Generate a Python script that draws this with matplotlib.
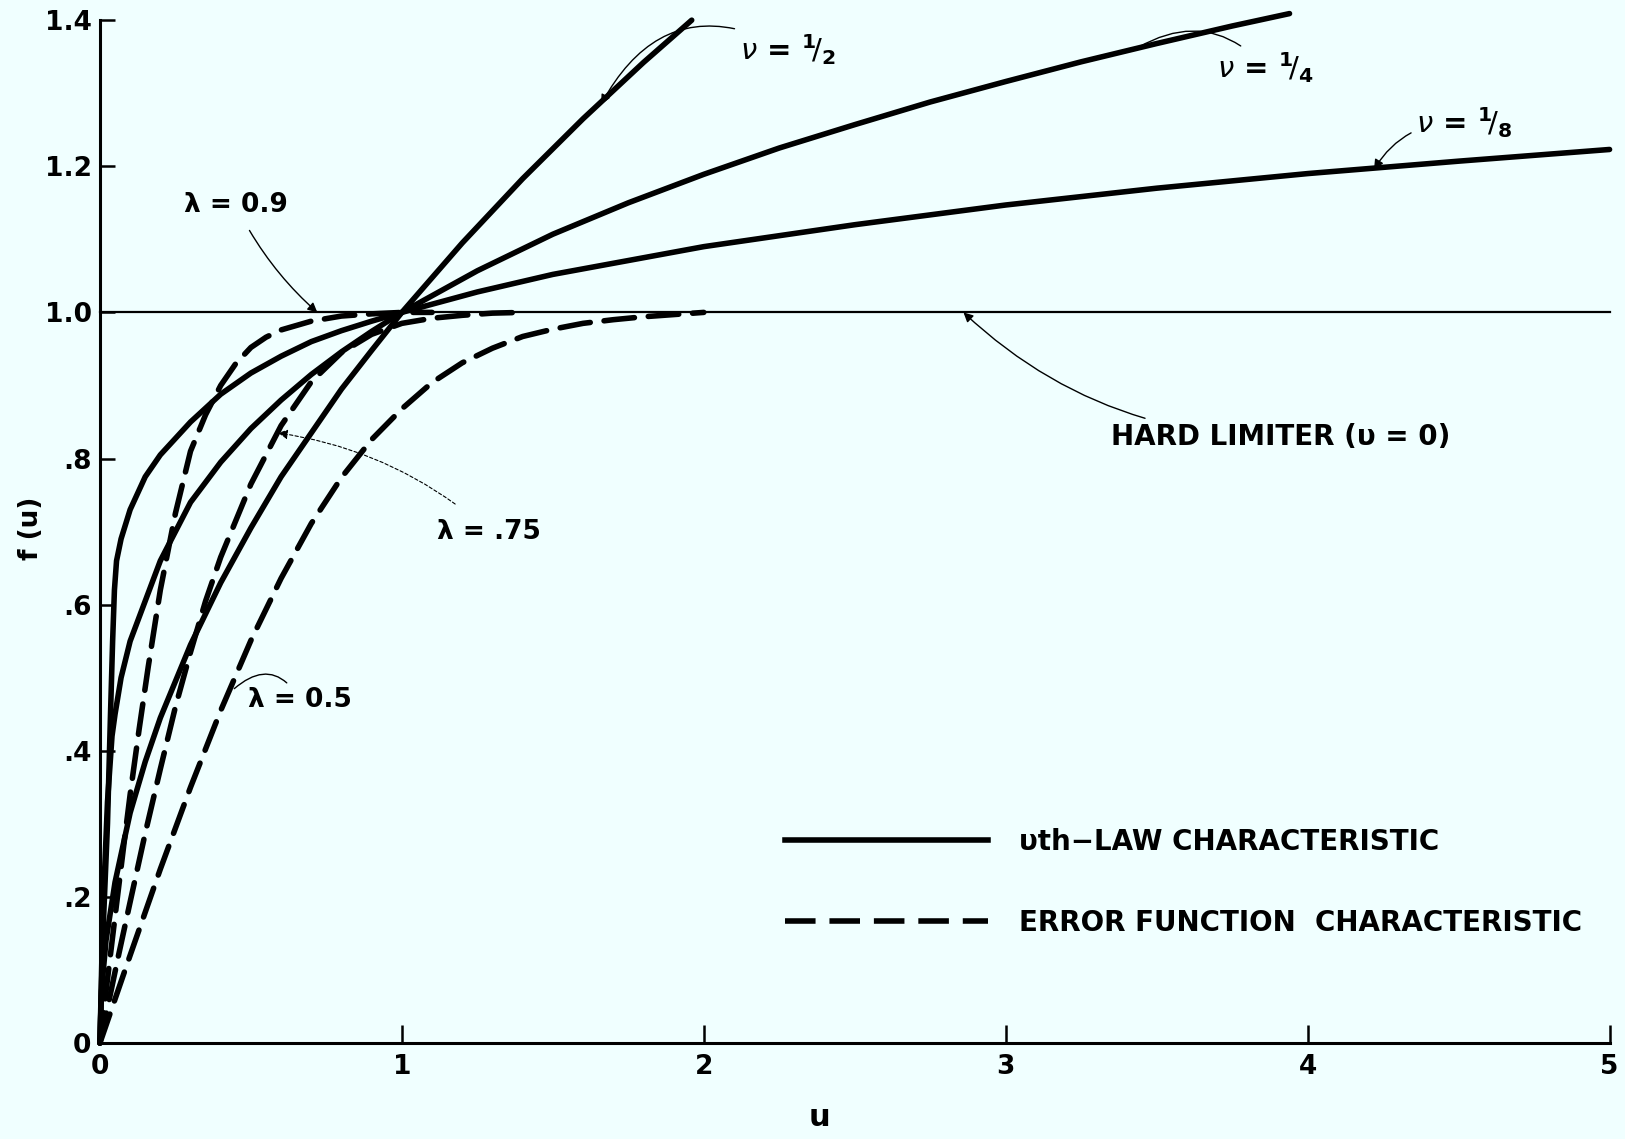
import matplotlib
matplotlib.use("Agg")
import matplotlib.pyplot as plt
from matplotlib.lines import Line2D

# nu-th law characteristics
u_half = [0, 0.005, 0.02, 0.05, 0.1, 0.15, 0.2, 0.3, 0.4, 0.5, 0.6, 0.7, 0.8, 0.9, 1.0,
          1.2, 1.4, 1.6, 1.8, 1.96]
f_half = [0, 0.07, 0.14, 0.22, 0.315, 0.385, 0.445, 0.545, 0.63, 0.705, 0.775, 0.835, 0.895,
          0.948, 1.0, 1.095, 1.183, 1.265, 1.342, 1.40]

u_quarter = [0, 0.01, 0.025, 0.04, 0.05, 0.07, 0.1, 0.15, 0.2, 0.3, 0.4, 0.5, 0.6, 0.7, 0.8,
             0.9, 1.0, 1.25, 1.5, 1.75, 2.0, 2.25, 2.5, 2.75, 3.0, 3.25, 3.5, 3.75, 3.94]
f_quarter = [0, 0.18, 0.33, 0.42, 0.45, 0.50, 0.55, 0.605, 0.66, 0.74, 0.795, 0.841, 0.88,
             0.915, 0.946, 0.974, 1.0, 1.057, 1.107, 1.15, 1.189, 1.225, 1.257, 1.288, 1.316,
             1.343, 1.368, 1.392, 1.409]

u_eighth = [0, 0.01, 0.025, 0.035, 0.042, 0.048, 0.055, 0.07, 0.1, 0.15, 0.2, 0.3, 0.4, 0.5,
            0.6, 0.7, 0.8, 0.9, 1.0, 1.25, 1.5, 2.0, 2.5, 3.0, 3.5, 4.0, 4.5, 5.0]
f_eighth = [0, 0.15, 0.3, 0.45, 0.55, 0.62, 0.66, 0.69, 0.73, 0.775, 0.805, 0.85, 0.888, 0.917,
            0.94, 0.96, 0.975, 0.988, 1.0, 1.028, 1.052, 1.09, 1.12, 1.147, 1.17, 1.19, 1.207,
            1.223]

# error function characteristics
u_l09 = [0, 0.02, 0.05, 0.08, 0.1, 0.13, 0.16, 0.2, 0.25, 0.3, 0.35, 0.4, 0.45, 0.5, 0.55,
         0.6, 0.7, 0.8, 0.9, 1.0, 1.1]
f_l09 = [0, 0.07, 0.173, 0.274, 0.34, 0.43, 0.515, 0.62, 0.725, 0.81, 0.86, 0.90, 0.93, 0.952,
         0.966, 0.976, 0.988, 0.995, 0.998, 1.0, 1.0]

u_l075 = [0, 0.03, 0.06, 0.1, 0.15, 0.2, 0.25, 0.3, 0.35, 0.4, 0.5, 0.6, 0.7, 0.8, 0.9, 1.0,
          1.1, 1.2, 1.3, 1.4]
f_l075 = [0, 0.058, 0.117, 0.193, 0.287, 0.375, 0.46, 0.535, 0.605, 0.665, 0.765, 0.845, 0.905,
          0.945, 0.97, 0.985, 0.992, 0.996, 0.999, 1.0]

u_l05 = [0, 0.05, 0.1, 0.2, 0.3, 0.4, 0.5, 0.6, 0.7, 0.8, 0.9, 1.0, 1.1, 1.2, 1.3, 1.4, 1.5,
         1.6, 1.7, 1.8, 1.9, 2.0]
f_l05 = [0, 0.06, 0.12, 0.238, 0.35, 0.455, 0.551, 0.636, 0.711, 0.774, 0.826, 0.868, 0.904,
         0.931, 0.951, 0.967, 0.977, 0.985, 0.99, 0.994, 0.997, 1.0]

# hard limiter
u_hard = [0, 5]
f_hard = [1.0, 1.0]

x_ticks = [0, 1, 2, 3, 4, 5]
x_labels = ["0", "1", "2", "3", "4", "5"]
y_ticks = [0, 0.2, 0.4, 0.6, 0.8, 1.0, 1.2, 1.4]
y_labels = ["0", ".2", ".4", ".6", ".8", "1.0", "1.2", "1.4"]

BG = "#f0ffff"
INK = "black"
LBL = ["DejaVu Sans Condensed", "Liberation Sans Narrow", "DejaVu Sans"]
DASH = (0, (5.5, 2.5))

fig = plt.figure(figsize=(16.25, 11.39), dpi=100, facecolor=BG)
ax = fig.add_axes([0.0615, 0.0843, 0.929, 0.898], facecolor=BG)

for u, f in [(u_half, f_half), (u_quarter, f_quarter), (u_eighth, f_eighth)]:
    ax.plot(u, f, color=INK, lw=4, solid_capstyle="round", clip_on=False)
for u, f in [(u_l09, f_l09), (u_l075, f_l075), (u_l05, f_l05)]:
    ax.plot(u, f, color=INK, lw=4, linestyle=DASH, dash_capstyle="round", clip_on=False)
ax.plot(u_hard, f_hard, color=INK, lw=1.6, clip_on=False)

ax.set_xlim(0, 5)
ax.set_ylim(0, 1.4)
for s in ["top", "right"]:
    ax.spines[s].set_visible(False)
for s in ["left", "bottom"]:
    ax.spines[s].set_linewidth(2.2)
ax.set_xticks(x_ticks, x_labels)
ax.set_yticks(y_ticks, y_labels)
ax.tick_params(axis="x", direction="in", length=13, width=1.8, labelsize=19, pad=8)
ax.tick_params(axis="y", direction="in", length=11, width=1.8, labelsize=19, pad=6)
for t in ax.get_xticklabels() + ax.get_yticklabels():
    t.set_family(LBL)
    t.set_fontweight("bold")

fig.text(31 / 1625, 1 - 528 / 1139, "f (u)", rotation=90, fontsize=19,
         family=LBL, fontweight="bold", ha="center", va="center")
fig.text(819 / 1625, 1 - 1117 / 1139, "u", fontsize=22, family=LBL,
         fontweight="bold", ha="center", va="center")

# curve labels with leaders
lead = dict(arrowstyle="-|>", color=INK, lw=1.0, mutation_scale=14)
ax.annotate(r"$\nu$ = $^{\mathbf{1}}\!/_{\mathbf{2}}$", xy=(1.66, 1.285), xytext=(2.12, 1.36),
            fontsize=21, family=LBL, fontweight="bold", ha="left", va="center",
            arrowprops=dict(lead, connectionstyle="arc3,rad=0.5", shrinkA=2, shrinkB=0))
ax.annotate(r"$\nu$ = $^{\mathbf{1}}\!/_{\mathbf{4}}$", xy=(3.44, 1.363), xytext=(3.70, 1.335),
            fontsize=21, family=LBL, fontweight="bold", ha="left", va="center",
            arrowprops=dict(lead, arrowstyle="-", connectionstyle="arc3,rad=0.4",
                            shrinkA=2, shrinkB=0))
ax.annotate(r"$\nu$ = $^{\mathbf{1}}\!/_{\mathbf{8}}$", xy=(4.22, 1.196), xytext=(4.36, 1.26),
            fontsize=21, family=LBL, fontweight="bold", ha="left", va="center",
            arrowprops=dict(lead, connectionstyle="arc3,rad=0.3", shrinkA=2, shrinkB=0))
ax.annotate("λ = 0.9", xy=(0.72, 1.0), xytext=(0.45, 1.147),
            fontsize=19, fontweight="bold", family=LBL, ha="center", va="center",
            arrowprops=dict(lead, connectionstyle="arc3,rad=0.1", shrinkA=8, shrinkB=0))
ax.annotate("λ = .75", xy=(0.59, 0.835), xytext=(1.29, 0.70),
            fontsize=19, fontweight="bold", family=LBL, ha="center", va="center",
            arrowprops=dict(lead, lw=0.8, linestyle=(0, (3, 2)),
                            connectionstyle="arc3,rad=0.15", shrinkA=14, shrinkB=0))
ax.annotate("λ = 0.5", xy=(0.445, 0.485), xytext=(0.49, 0.47),
            fontsize=19, fontweight="bold", family=LBL, ha="left", va="center",
            arrowprops=dict(arrowstyle="-", color=INK, lw=1.0,
                            connectionstyle="arc3,rad=0.6", shrinkA=1, shrinkB=0))
ax.annotate("HARD LIMITER (υ = 0)", xy=(2.86, 1.0), xytext=(3.35, 0.83),
            fontsize=20, fontweight="bold", family=LBL, ha="left", va="center",
            arrowprops=dict(lead, connectionstyle="arc3,rad=-0.2", shrinkA=4, shrinkB=0))

handles = [Line2D([], [], color=INK, lw=4),
           Line2D([], [], color=INK, lw=4, linestyle=DASH)]
labels = ["υth−LAW CHARACTERISTIC", "ERROR FUNCTION  CHARACTERISTIC"]
ax.legend(handles, labels, loc="upper left", bbox_to_anchor=(0.454, 0.21),
          frameon=False, handlelength=7.3, handletextpad=1.1, labelspacing=1.9,
          borderpad=0, borderaxespad=0,
          prop=dict(family=LBL, size=20, weight="bold"))

fig.savefig("out.png", dpi=100, facecolor=BG)
